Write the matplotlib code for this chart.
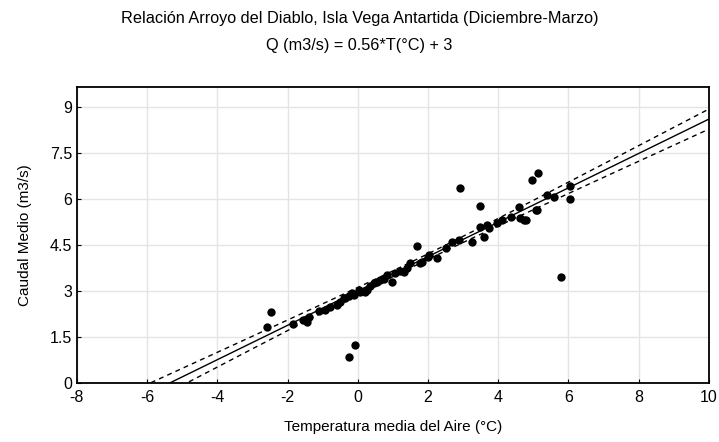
import numpy as np
import matplotlib
matplotlib.use("Agg")
import matplotlib.pyplot as plt

plt.rcParams['font.family'] = ['Liberation Sans', 'DejaVu Sans']
plt.rcParams['axes.unicode_minus'] = False

# Data
temp = [-2.47, -2.59, -1.86, -1.55, -1.40, -1.45, -0.93, -0.78, -0.59, -0.50,
        -0.40, -0.36, -0.17, -0.12, 0.02, 0.07, 0.21, 0.26, 0.45, 0.55,
        0.64, 0.75, 0.83, 0.97, 1.07, 1.20, 1.31, 1.50, 1.69, 1.78,
        1.83, 2.01, 2.02, 2.26, 2.50, 2.69, 2.87, 2.90, 3.26, 3.47,
        3.49, 3.58, 3.68, 3.75, 3.97, 4.10, 4.35, 4.58, 4.63, 4.72,
        4.78, 4.97, 5.08, 5.11, 5.14, 5.38, 5.58, 5.80, 6.04, 6.04,
        -0.09, -0.26, -1.10, -0.25, 0.35, 1.40]
caudal = [2.30, 1.81, 1.91, 2.05, 2.16, 2.00, 2.38, 2.49, 2.54, 2.65,
          2.76, 2.76, 2.92, 2.87, 3.03, 2.97, 2.97, 3.03, 3.25, 3.30,
          3.36, 3.40, 3.52, 3.30, 3.57, 3.65, 3.63, 3.90, 4.46, 3.90,
          3.95, 4.11, 4.17, 4.06, 4.39, 4.60, 4.66, 6.34, 4.60, 5.78,
          5.09, 4.77, 5.15, 5.05, 5.20, 5.30, 5.42, 5.74, 5.37, 5.30,
          5.30, 6.61, 5.63, 5.64, 6.83, 6.12, 6.06, 3.46, 6.42, 5.99,
          1.23, 0.86, 2.35, 2.85, 3.15, 3.75]

slope = 0.56
intercept = 3.0
band_factor = 1.25

x_ticks = [-8, -6, -4, -2, 0, 2, 4, 6, 8, 10]
y_ticks = [0, 1.5, 3, 4.5, 6, 7.5, 9]
y_tick_labels = ['0', '1.5', '3', '4.5', '6', '7.5', '9']

title1 = "Relación Arroyo del Diablo, Isla Vega Antartida (Diciembre-Marzo)"
title2 = "Q (m3/s) = 0.56*T(°C) + 3"

fig = plt.figure(figsize=(7.19, 4.42), dpi=100)
ax = fig.add_axes([0.107, 0.1335, 0.879, 0.670])

T = np.array(temp)
Q = np.array(caudal)
n = len(T)
resid = Q - (slope * T + intercept)
s = np.sqrt(np.sum(resid ** 2) / (n - 2))
xbar = T.mean()
sxx = np.sum((T - xbar) ** 2)

xs = np.linspace(-8, 10, 400)
fit = slope * xs + intercept
hw = band_factor * s * np.sqrt(1.0 / n + (xs - xbar) ** 2 / sxx)

ax.plot(xs, fit, color='black', lw=1.0, zorder=3)
ax.plot(xs, fit + hw, color='black', lw=1.0, ls=(0, (3.5, 3)), zorder=3)
ax.plot(xs, fit - hw, color='black', lw=1.0, ls=(0, (3.5, 3)), zorder=3)
ax.scatter(T, Q, s=36, color='black', zorder=4, linewidths=0)

ax.set_xlim(-8, 10)
ax.set_ylim(0, 9.65)
ax.set_xticks(x_ticks)
ax.set_yticks(y_ticks)
ax.set_yticklabels(y_tick_labels)
ax.grid(True, color='#e4e4e4', lw=1.0)
ax.set_axisbelow(True)
ax.tick_params(direction='in', length=3, labelsize=11.5, colors='black')
ax.tick_params(axis='x', pad=5)
for sp in ax.spines.values():
    sp.set_linewidth(1.3)

ax.set_xlabel("Temperatura media del Aire (°C)", fontsize=11, labelpad=11)
ax.set_ylabel("Caudal Medio (m3/s)", fontsize=11, labelpad=13)

fig.text(0.5, 0.958, title1, ha='center', va='center', fontsize=11.7)
fig.text(0.5, 0.898, title2, ha='center', va='center', fontsize=11.7)

fig.savefig("out.png", dpi=100)
